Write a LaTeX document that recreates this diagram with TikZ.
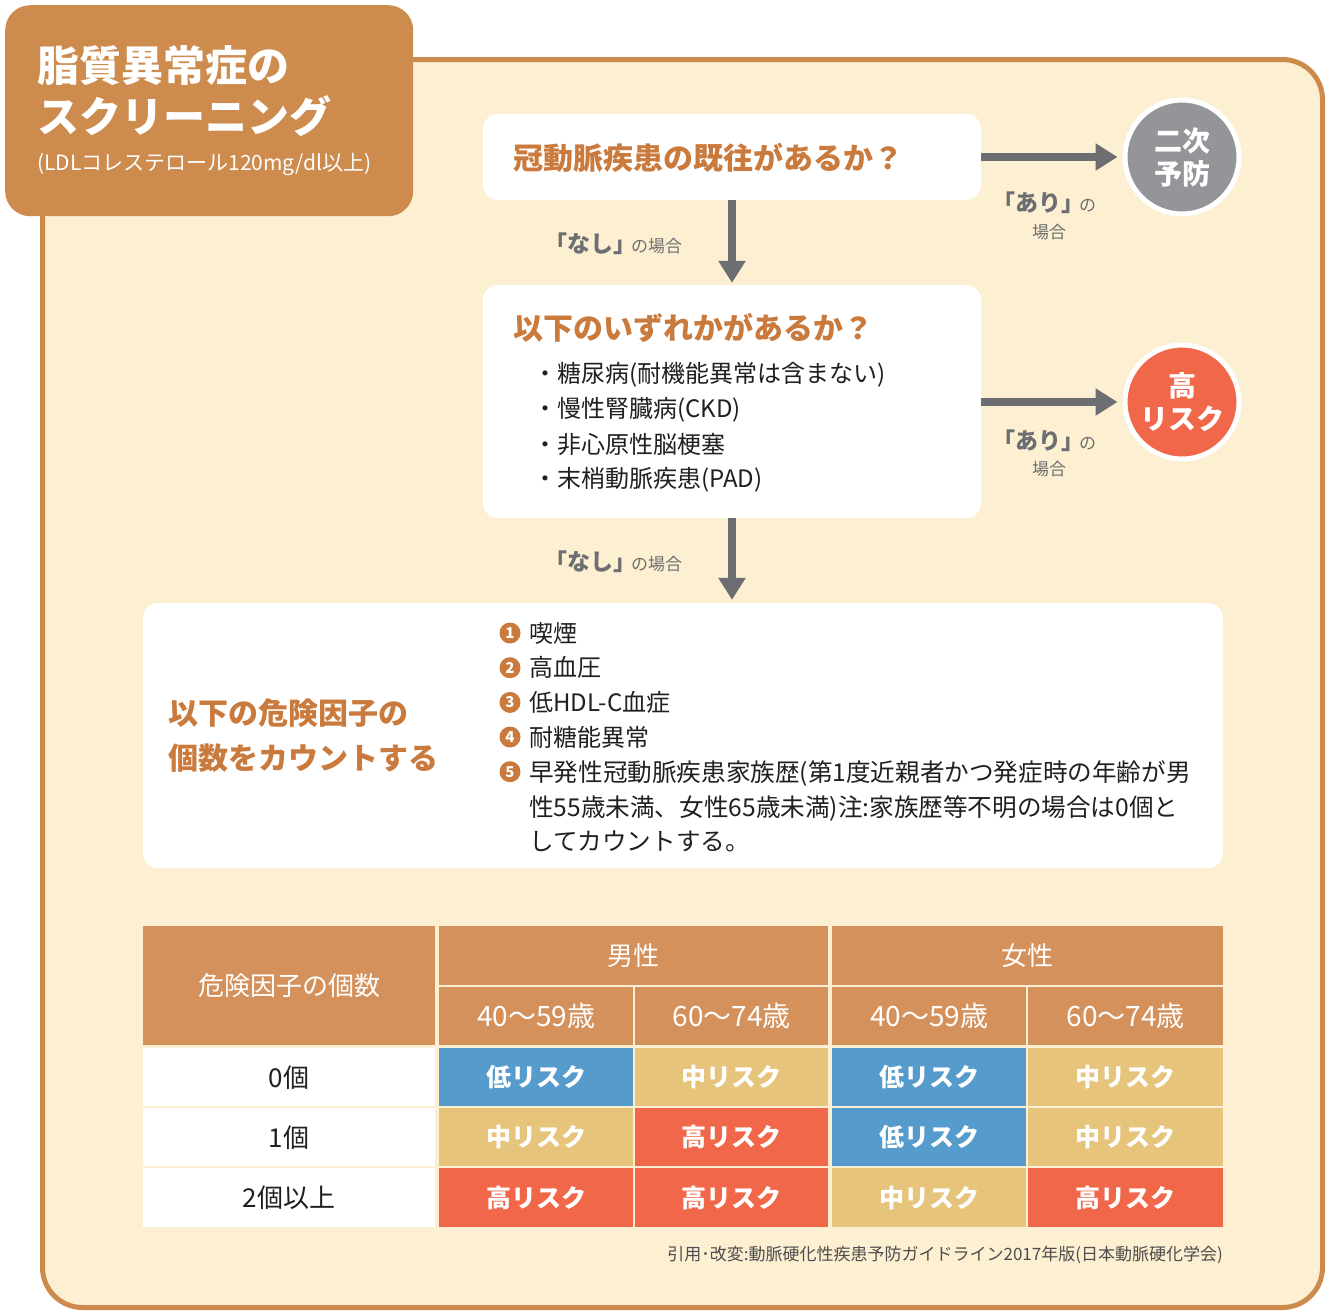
\documentclass[tikz,border=0pt]{standalone}
\usepackage{fontspec}
\setmainfont{Noto Sans CJK JP}
\usetikzlibrary{arrows.meta}
\definecolor{cream}{HTML}{FDEFD2}
\definecolor{frame}{HTML}{CD8A4D}
\definecolor{titlefill}{HTML}{CD8B4E}
\definecolor{ortext}{HTML}{C97A3C}
\definecolor{grayarr}{HTML}{6D6E71}
\definecolor{graycirc}{HTML}{939598}
\definecolor{rhigh}{HTML}{F0674A}
\definecolor{rlow}{HTML}{559BCB}
\definecolor{rmid}{HTML}{E6C47C}
\definecolor{thead}{HTML}{D4915B}
\definecolor{dark}{HTML}{231F20}
\definecolor{foot}{HTML}{4D4D4D}
\newcommand\fsz[2]{\fontsize{#1}{#2}\selectfont}
\newcommand\nashi{{\bfseries\fsz{23}{26}\addfontfeatures{RawFeature=+halt}「なし」}\hspace{6pt}{\fsz{17}{20}の場合}}
\newcommand\ari{{\bfseries\fsz{23}{26}\addfontfeatures{RawFeature=+halt}「あり」}\hspace{6pt}{\fsz{17}{20}の}}
\begin{document}
\begin{tikzpicture}[x=1pt,y=-1pt,
  box/.style={fill=white, rounded corners=15, inner sep=0},
  head/.style={text=ortext, font=\bfseries\fsz{30}{45}, anchor=west, inner sep=0, align=left},
  body/.style={text=dark, font=\fsz{24}{34.7}, anchor=west, inner sep=0, align=left},
  flow/.style={draw=grayarr, line width=7.5, -{Triangle[length=22pt, width=26pt]}},
  lblbig/.style={text=grayarr, inner sep=0},
  numc/.style={circle, fill=ortext, minimum size=21, inner sep=0, text=white, font=\bfseries\fsz{15}{15}},
  risk/.style={circle, draw=white, line width=5, minimum size=114, inner sep=0, text=white, font=\bfseries\fsz{28}{33}, align=center},
  cell/.style={anchor=north west, inner sep=0},
  hcell/.style={cell, fill=thead, text=white, font=\fsz{26}{30}},
  acell/.style={hcell, font=\fsz{28}{30}},
  dcell/.style={cell, text=white, font=\bfseries\fsz{25}{30}},
  rcell/.style={cell, fill=white, text=dark, font=\fsz{26}{30}, minimum width=292}
]
\useasboundingbox (0,0) rectangle (1327,1315);
\fill[white] (0,0) rectangle (1327,1315);
% frame
\draw[draw=frame, line width=5, fill=cream, rounded corners=40] (42.5,59.5) rectangle (1322.5,1307.5);
% title box
\node[fill=titlefill, rounded corners=25, minimum width=408, minimum height=211, anchor=north west, inner sep=0] (tb) at (5,5) {};
\node[anchor=west, inner sep=0, text=white, font=\bfseries\fsz{42}{50}] (t1) at (37,66) {脂質異常症の};
\node[anchor=west, inner sep=0, text=white, font=\bfseries\fsz{42}{50}] (t2) at (37,116) {スクリーニング};
\node[anchor=west, inner sep=0, text=white, font=\fsz{21}{25}] (t3) at (37,164) {(LDLコレステロール120mg/dl以上)};

% flow boxes
\node[box, minimum width=498, minimum height=86] (b1) at (732,157) {};
\node[head] (h1) at (513,158) {冠動脈疾患の既往があるか？};
\node[box, minimum width=498, minimum height=233] (b2) at (732,401.5) {};
\node[head] (h2) at (513,328) {以下のいずれかがあるか？};
\node[body] (l1) at (533,375) {・糖尿病(耐機能異常は含まない)};
\node[body] (l2) at (533,410) {・慢性腎臓病(CKD)};
\node[body] (l3) at (533,445) {・非心原性脳梗塞};
\node[body] (l4) at (533,480) {・末梢動脈疾患(PAD)};

\node[box, minimum width=1080, minimum height=265] (b3) at (683,735.5) {};
\node[head] (h3) at (168,735.5) {以下の危険因子の\\個数をカウントする};
\node[numc] (n1) at (510,633) {1};
\node[numc] (n2) at (510,667.7) {2};
\node[numc] (n3) at (510,702.4) {3};
\node[numc] (n4) at (510,737) {4};
\node[numc] (n5) at (510,771.7) {5};
\node[body] (i1) at (529,633) {喫煙};
\node[body] (i2) at (529,667.7) {高血圧};
\node[body] (i3) at (529,702.4) {低HDL-C血症};
\node[body] (i4) at (529,737) {耐糖能異常};
\node[body, font=\fsz{24.6}{34.7}] (i5) at (529,806.4) {早発性冠動脈疾患家族歴(第1度近親者かつ発症時の年齢が男\\性55歳未満、女性65歳未満)注:家族歴等不明の場合は0個と\\してカウントする。};

% circles
\node[risk, fill=graycirc] (c1) at (1182,157) {二次\\予防};
\node[risk, fill=rhigh] (c2) at (1182,402) {高\\リスク};

% arrows
\draw[flow, shorten >=2] (b1.south) -- (b2.north);
\draw[flow, shorten >=3] (b2.south) -- (b2.south |- b3.north);
\draw[flow, shorten >=5] (b1.east) -- (c1.west);
\draw[flow, shorten >=5] (b2.east |- c2.west) -- (c2.west);

% labels
\node[lblbig, anchor=west] (nl1) at (556,244) {\nashi};
\node[lblbig, anchor=west] (nl2) at (556,562) {\nashi};
\node[lblbig] (al1) at (1050,203) {\ari};
\node[lblbig, font=\fsz{17}{20}] (al1b) at (1049,232) {場合};
\node[lblbig] (al2) at (1050,441) {\ari};
\node[lblbig, font=\fsz{17}{20}] (al2b) at (1049,469) {場合};

% table header
\node[hcell, minimum width=292, minimum height=119] (th0) at (143,926) {危険因子の個数};
\node[hcell, minimum width=389, minimum height=59] (thm) at (439,926) {男性};
\node[hcell, minimum width=391, minimum height=59] (thf) at (832,926) {女性};
\node[acell, minimum width=194, minimum height=58] (ta1) at (439,987) {40〜59歳};
\node[acell, minimum width=193, minimum height=58] (ta2) at (635,987) {60〜74歳};
\node[acell, minimum width=194, minimum height=58] (ta3) at (832,987) {40〜59歳};
\node[acell, minimum width=195, minimum height=58] (ta4) at (1028,987) {60〜74歳};

% row labels
\node[rcell, minimum height=58] (r1) at (143,1048) {0個};
\node[rcell, minimum height=58] (r2) at (143,1108) {1個};
\node[rcell, minimum height=59] (r3) at (143,1168) {2個以上};

% data cells
\node[dcell, fill=rlow, minimum width=194, minimum height=58] (d11) at (439,1048) {低リスク};
\node[dcell, fill=rmid, minimum width=193, minimum height=58] (d12) at (635,1048) {中リスク};
\node[dcell, fill=rlow, minimum width=194, minimum height=58] (d13) at (832,1048) {低リスク};
\node[dcell, fill=rmid, minimum width=195, minimum height=58] (d14) at (1028,1048) {中リスク};

\node[dcell, fill=rmid, minimum width=194, minimum height=58] (d21) at (439,1108) {中リスク};
\node[dcell, fill=rhigh, minimum width=193, minimum height=58] (d22) at (635,1108) {高リスク};
\node[dcell, fill=rlow, minimum width=194, minimum height=58] (d23) at (832,1108) {低リスク};
\node[dcell, fill=rmid, minimum width=195, minimum height=58] (d24) at (1028,1108) {中リスク};

\node[dcell, fill=rhigh, minimum width=194, minimum height=59] (d31) at (439,1168) {高リスク};
\node[dcell, fill=rhigh, minimum width=193, minimum height=59] (d32) at (635,1168) {高リスク};
\node[dcell, fill=rmid, minimum width=194, minimum height=59] (d33) at (832,1168) {中リスク};
\node[dcell, fill=rhigh, minimum width=195, minimum height=59] (d34) at (1028,1168) {高リスク};

% footer
\node[anchor=east, inner sep=0, text=foot, font=\fsz{17}{20}] (ft) at (1223,1255) {引用･改変:動脈硬化性疾患予防ガイドライン2017年版(日本動脈硬化学会)};
\end{tikzpicture}
\end{document}
